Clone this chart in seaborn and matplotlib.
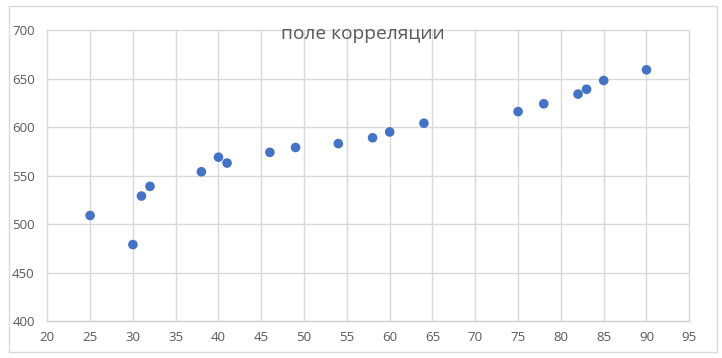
import matplotlib
matplotlib.use("Agg")
import matplotlib.pyplot as plt
import seaborn as sns
import pandas as pd

# data
x_vals = [25, 30, 31, 32, 38, 40, 41, 46, 49, 54, 58, 60, 64, 75, 78, 82, 83, 85, 90]
y_vals = [509, 479, 529, 539, 554, 569, 563, 574, 579, 583, 589, 595, 604, 616, 624, 634, 639, 648, 659]
x_ticks = list(range(20, 100, 5))
y_ticks = list(range(400, 750, 50))
title = "поле корреляции"

df = pd.DataFrame({"x": x_vals, "y": y_vals})

sns.set_style("white")
plt.rcParams["font.family"] = ["Open Sans", "DejaVu Sans"]

fig = plt.figure(figsize=(7.22, 3.58), dpi=100)
ax = fig.add_axes([0.0655, 0.1025, 0.8892, 0.8137])

sns.scatterplot(data=df, x="x", y="y", ax=ax, color="#4472C4",
                s=48, edgecolor="none", zorder=3)

ax.set_xlim(20, 95)
ax.set_ylim(400, 700)
ax.set_xticks(x_ticks)
ax.set_yticks(y_ticks)
ax.grid(True, color="#d9d9d9", lw=1)
for gl in ax.get_xgridlines() + ax.get_ygridlines():
    gl.set_clip_on(False)
ax.set_axisbelow(True)
for side in ["top", "right", "left"]:
    ax.spines[side].set_visible(False)
ax.spines["bottom"].set_color("#d0d0d0")
ax.tick_params(length=0, labelsize=9.5, labelcolor="#595959")
ax.tick_params(axis="x", pad=7)
ax.tick_params(axis="y", pad=9)
ax.set_xlabel("")
ax.set_ylabel("")

fig.text(0.503, 0.905, title, ha="center", va="center",
         fontsize=13.8, color="#595959")

# chart-area border like the spreadsheet frame
fig.patches.append(plt.Rectangle((0.0125, 0.0176), 0.980, 0.9656,
                                 transform=fig.transFigure, fill=False,
                                 edgecolor="#d9d9d9", lw=1))

fig.savefig("out.png", dpi=100)
